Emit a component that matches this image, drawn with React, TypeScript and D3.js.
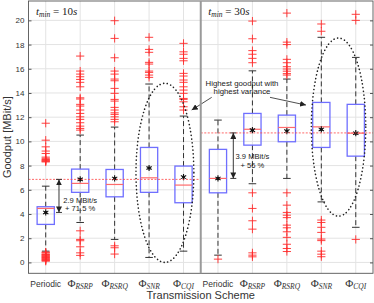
import React, { useEffect, useRef } from 'react';
import * as d3 from 'd3';

// categories (two panels, five schemes each)
const schemes = ['Periodic', 'RSRP', 'RSRQ', 'SNR', 'CQI'];
const windows = ['10s', '30s'];

// t_min = 10s
const lower10 = [0.93, 3.3, 1.9, 0.41, 0.93];
const q1_10 = [3.14, 5.79, 5.42, 5.79, 4.93];
const median10 = [4.46, 6.53, 6.44, 6.99, 6.39];
const q3_10 = [4.6, 7.71, 7.68, 9.5, 7.96];
const upper10 = [6.3, 10.52, 11.18, 14.74, 12.09];
const mean10 = [4.13, 6.86, 6.94, 7.8, 7.05];
const outliers10 = [
  [11.5, 10.1, 9.55, 9.2, 9.0, 8.7, 8.6, 8.5, 8.45, 8.4, 8.35, 8.3, 0.85, 0.8, 0.7, 0.65, 0.6, 0.55, 0.5, 0.45, 0.4, 0.35, 0.3, 0.25, 0.2, 0.15, 0.1],
  [17.05, 15.81, 15.56, 15.34, 15.12, 14.88, 14.51, 13.6, 13.5, 13.06, 12.92, 12.59, 12.31, 12.03, 11.82, 11.54, 11.26, 11.07, 10.93, 2.61, 1.9, 1.79, 1.29, 0.79, 0.58],
  [19.97, 18.51, 16.91, 15.81, 15.56, 15.15, 15.01, 14.38, 13.97, 13.47, 13.33, 12.81, 12.59, 12.36, 12.23, 12.03, 11.82, 11.62, 1.37, 1.21, 0.69],
  [18.6, 17.6, 17.36, 16.53, 16.39, 15.81, 15.7, 15.48, 15.29],
  [18.1, 17.4, 17.2, 16.86, 16.66, 15.62, 15.4, 15.07, 14.88, 14.51, 14.24, 13.97, 13.55, 13.47, 13.27, 12.86, 12.59],
];

// t_min = 30s
const lower30 = [0.6, 6.5, 6.94, 5.0, 2.9];
const q1_30 = [5.75, 9.69, 9.97, 9.5, 8.78];
const median30 = [6.94, 11.0, 11.15, 11.2, 10.68];
const q3_30 = [9.34, 12.31, 12.17, 13.22, 13.06];
const upper30 = [11.76, 15.83, 15.15, 18.6, 16.94];
const mean30 = [6.94, 10.93, 10.85, 10.99, 10.68];
const outliers30 = [
  [0.27],
  [19.94, 18.48, 17.5, 17.2, 16.86, 16.5, 5.75, 4.46, 3.44, 2.75, 0.79, 0.6, 0.46],
  [20.6, 18.2, 18.0, 16.78, 16.5, 16.17, 15.98, 15.8, 15.6, 15.48, 5.75, 4.73, 4.13, 3.9, 3.7, 3.08, 2.86, 2.53, 2.07, 1.5, 1.15, 0.9],
  [19.7, 19.1, 3.5, 3.3, 2.9, 2.48, 1.93, 1.8, 0.93, 0.68, 0.47],
  [20.5, 20.0, 1.9],
];

// best-scheme reference line per panel and gain labels
const refLine = [6.86, 10.7];
const gainText = [['2.9 MBit/s', '+ 71.5 %'], ['3.9 MBit/s', '+ 56 %']];
const yTicks = d3.range(0, 21, 2);

const sans = "'Liberation Sans', Arial, sans-serif";
const serif = "'Liberation Serif', 'Times New Roman', serif";

export default function App() {
  const ref = useRef<SVGSVGElement>(null);

  useEffect(() => {
    const W = 374, H = 303;
    const left = 28.5, right = 373, top = 1, bottom = 273.3;
    const svg = d3.select(ref.current);
    svg.selectAll('*').remove();

    const x = d3.scaleBand<number>().domain(d3.range(10)).range([left, right]);
    const bw = x.bandwidth();
    const xAt = (g: number) => left + (g + 0.5) * bw;
    const y = d3.scaleLinear().domain([-0.9, 21.6]).range([bottom, top]);
    const mid = left + 5 * bw;

    const defs = svg.append('defs');
    defs.append('marker').attr('id', 'head')
      .attr('viewBox', '0 0 10 10').attr('refX', 10).attr('refY', 5)
      .attr('markerWidth', 6).attr('markerHeight', 6).attr('markerUnits', 'userSpaceOnUse')
      .attr('orient', 'auto-start-reverse')
      .append('path').attr('d', 'M0,0L10,5L0,10Z').attr('fill', '#222');

    svg.append('rect').attr('x', left).attr('y', top).attr('width', right - left).attr('height', bottom - top).attr('fill', '#fff');

    // grid
    const grid = svg.append('g').attr('stroke', '#e3e3e3').attr('stroke-width', 1);
    grid.selectAll('.h').data(yTicks).join('line')
      .attr('x1', left).attr('x2', right).attr('y1', d => y(d)).attr('y2', d => y(d));
    grid.selectAll('.v').data(d3.range(10)).join('line')
      .attr('x1', d => xAt(d)).attr('x2', d => xAt(d)).attr('y1', top).attr('y2', bottom);

    // boxes
    const stats = [
      { lo: lower10, q1: q1_10, md: median10, q3: q3_10, hi: upper10, mn: mean10, out: outliers10 },
      { lo: lower30, q1: q1_30, md: median30, q3: q3_30, hi: upper30, mn: mean30, out: outliers30 },
    ];
    const boxes = stats.flatMap((s, p) => schemes.map((_, i) => ({
      g: p * 5 + i, lo: s.lo[i], q1: s.q1[i], md: s.md[i], q3: s.q3[i], hi: s.hi[i], mn: s.mn[i], out: s.out[i],
    })));

    const bx = svg.append('g');
    boxes.forEach(b => {
      const cx = xAt(b.g);
      const w = bw * 0.5, cap = bw * 0.22;
      const gg = bx.append('g');
      gg.append('line').attr('x1', cx).attr('x2', cx).attr('y1', y(b.q3)).attr('y2', y(b.hi))
        .attr('stroke', '#333').attr('stroke-dasharray', '5,3');
      gg.append('line').attr('x1', cx).attr('x2', cx).attr('y1', y(b.q1)).attr('y2', y(b.lo))
        .attr('stroke', '#333').attr('stroke-dasharray', '5,3');
      [b.hi, b.lo].forEach(v => gg.append('line').attr('x1', cx - cap / 2).attr('x2', cx + cap / 2)
        .attr('y1', y(v)).attr('y2', y(v)).attr('stroke', '#333'));
      gg.append('rect').attr('x', cx - w / 2).attr('width', w).attr('y', y(b.q3)).attr('height', y(b.q1) - y(b.q3))
        .attr('fill', 'none').attr('stroke', '#6f6fff').attr('stroke-width', 1.3);
      gg.append('line').attr('x1', cx - w / 2).attr('x2', cx + w / 2).attr('y1', y(b.md)).attr('y2', y(b.md))
        .attr('stroke', '#ff6b6b').attr('stroke-width', 1.2);
      gg.selectAll('.o').data(b.out).join('path')
        .attr('d', d3.symbol(d3.symbolPlus, 24)!)
        .attr('transform', d => `translate(${cx},${y(d)})`)
        .attr('fill', 'none').attr('stroke', '#ff2a2a').attr('stroke-width', 0.9);
    });

    // reference lines
    refLine.forEach((v, p) => {
      svg.append('line').attr('x1', p === 0 ? left : mid).attr('x2', p === 0 ? mid : right)
        .attr('y1', y(v)).attr('y2', y(v))
        .attr('stroke', '#ff4444').attr('stroke-opacity', 0.8).attr('stroke-dasharray', '2,1.5');
    });

    // means
    boxes.forEach(b => {
      const cx = xAt(b.g);
      bx.append('circle').attr('cx', cx).attr('cy', y(b.mn)).attr('r', 1.6).attr('fill', '#111');
      bx.append('path').attr('d', d3.symbol(d3.symbolAsterisk, 26)!)
        .attr('transform', `translate(${cx},${y(b.mn)})`)
        .attr('fill', 'none').attr('stroke', '#111').attr('stroke-width', 1.1);
    });

    // dotted ellipses
    [{ g: 3.46, c: 7.4, rx: 0.84, ry: 7.4 }, { g: 8.5, c: 11.18, rx: 0.79, ry: 7.36 }].forEach(e => {
      svg.append('ellipse').attr('cx', xAt(e.g)).attr('cy', y(e.c))
        .attr('rx', e.rx * bw).attr('ry', (y(e.c - e.ry) - y(e.c + e.ry)) / 2)
        .attr('fill', 'none').attr('stroke', '#222').attr('stroke-width', 1.6)
        .attr('stroke-dasharray', '0.1,3.6').attr('stroke-linecap', 'round');
    });

    // gain arrows
    [{ g: 0.385, p: 0, tx: 1, dy: 1.5 }, { g: 5.445, p: 1, tx: 6, dy: -2 }].forEach(a => {
      const ax = xAt(a.g);
      const y1 = y(refLine[a.p]), y2 = y(stats[a.p].mn[0]);
      svg.append('line').attr('x1', ax).attr('x2', ax).attr('y1', y1).attr('y2', y2)
        .attr('stroke', '#222').attr('stroke-width', 0.9)
        .attr('marker-start', 'url(#head)').attr('marker-end', 'url(#head)');
      [y1, y2].forEach(v => svg.append('line').attr('x1', ax - 3).attr('x2', ax + 3).attr('y1', v).attr('y2', v)
        .attr('stroke', '#222').attr('stroke-width', 0.9));
      const t = svg.append('text').attr('font-family', sans).attr('font-size', 7.6).attr('fill', '#222')
        .attr('text-anchor', 'middle');
      t.append('tspan').attr('x', xAt(a.tx)).attr('y', (y1 + y2) / 2 + 5.5 + a.dy).text(gainText[a.p][0]);
      t.append('tspan').attr('x', xAt(a.tx)).attr('dy', 8.4).text(gainText[a.p][1]);
    });

    // "Highest goodput" callout
    const call = svg.append('text').attr('font-family', sans).attr('font-size', 7.8).attr('fill', '#222')
      .attr('text-anchor', 'middle');
    call.append('tspan').attr('x', xAt(5.697)).attr('y', y(14.6)).text('Highest goodput with');
    call.append('tspan').attr('x', xAt(5.697)).attr('y', y(13.9)).text('highest variance');
    [[4.818, 13.64, 4.237, 12.59], [6.51, 13.64, 7.555, 13.0]].forEach(([g1, v1, g2, v2]) => {
      svg.append('line').attr('x1', xAt(g1)).attr('y1', y(v1)).attr('x2', xAt(g2)).attr('y2', y(v2))
        .attr('stroke', '#222').attr('stroke-width', 0.8).attr('marker-end', 'url(#head)');
    });

    // frame and y axis
    svg.append('rect').attr('x', left).attr('y', top).attr('width', right - left).attr('height', bottom - top)
      .attr('fill', 'none').attr('stroke', '#555').attr('stroke-width', 0.9);
    svg.append('line').attr('x1', mid).attr('x2', mid).attr('y1', top).attr('y2', bottom)
      .attr('stroke', '#9a9a9a').attr('stroke-width', 2);

    const ya = svg.append('g').attr('transform', `translate(${left},0)`)
      .call(d3.axisLeft(y).tickValues(yTicks).tickSizeInner(-3).tickSizeOuter(0).tickPadding(4));
    ya.select('.domain').remove();
    ya.selectAll('line').attr('stroke', '#555');
    ya.selectAll('text').attr('font-family', sans).attr('font-size', 8).attr('fill', '#333');
    const yr = svg.append('g').attr('transform', `translate(${right},0)`)
      .call(d3.axisRight(y).tickValues(yTicks).tickSizeInner(-3).tickSizeOuter(0).tickFormat(() => ''));
    yr.select('.domain').remove();
    yr.selectAll('line').attr('stroke', '#555');

    // category labels
    d3.range(10).forEach(g => {
      const s = schemes[g % 5];
      const t = svg.append('text').attr('x', xAt(g)).attr('y', 286.5).attr('text-anchor', 'middle').attr('fill', '#333');
      if (s === 'Periodic') {
        t.attr('font-family', sans).attr('font-size', 8.5).text(s);
      } else {
        t.attr('font-family', serif);
        t.append('tspan').attr('font-size', 11).text('Φ');
        t.append('tspan').attr('font-size', 7.5).attr('font-style', 'italic').attr('dy', 2).text(s);
      }
    });

    // panel titles
    windows.forEach((wv, p) => {
      const t = svg.append('text').attr('x', (p === 0 ? left : mid) + 7.5).attr('y', 14.5)
        .attr('font-family', serif).attr('font-size', 11).attr('fill', '#222');
      t.append('tspan').attr('font-style', 'italic').text('t');
      t.append('tspan').attr('font-style', 'italic').attr('font-size', 7.5).attr('dy', 2).text('min');
      t.append('tspan').attr('dy', -2).text(' = ' + wv.replace('s', ''));
      t.append('tspan').attr('font-style', 'italic').text('s');
    });

    // axis titles
    svg.append('text').attr('x', (left + right) / 2).attr('y', 299).attr('text-anchor', 'middle')
      .attr('font-family', sans).attr('font-size', 11).attr('fill', '#333').text('Transmission Scheme');
    svg.append('text').attr('transform', `translate(11,${(top + bottom) / 2}) rotate(-90)`).attr('text-anchor', 'middle')
      .attr('font-family', sans).attr('font-size', 11).attr('fill', '#333').text('Goodput [MBit/s]');

    svg.attr('width', W).attr('height', H);
  }, []);

  return (
    <svg ref={ref} width={374} height={303} style={{ position: 'absolute', left: 0, top: 0, background: '#fff' }} />
  );
}
